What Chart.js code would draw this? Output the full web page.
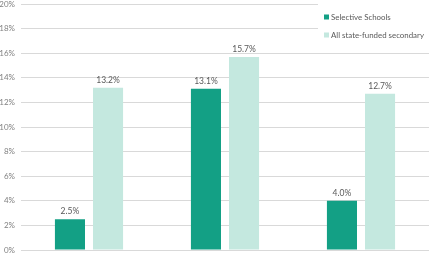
<!DOCTYPE html>
<html>
<head>
<meta charset="utf-8">
<script src="https://cdn.jsdelivr.net/npm/chart.js@4"></script>
<style>
html,body{margin:0;padding:0;background:#fff;}
#wrap{width:429px;height:255px;position:relative;}
</style>
</head>
<body>
<div id="wrap"><canvas id="c" width="429" height="255"></canvas></div>
<script>
const categories = ["Group 1", "Group 2", "Group 3"];
const selectiveSchools = [2.5, 13.1, 4.0];
const allStateFunded = [13.2, 15.7, 12.7];
const seriesNames = ["Selective Schools", "All state-funded secondary"];
const yTicks = [0, 2, 4, 6, 8, 10, 12, 14, 16, 18, 20];

const FONT = "Lato, 'Open Sans', 'Liberation Sans', sans-serif";
const DARK = "#13a085";
const LIGHT = "#c4e8df";

const dataLabels = {
  id: 'dataLabels',
  afterDatasetsDraw(chart) {
    const ctx = chart.ctx;
    ctx.save();
    ctx.font = "8.5px " + FONT;
    ctx.fillStyle = "#595959";
    ctx.textAlign = "center";
    ctx.textBaseline = "bottom";
    chart.data.datasets.forEach((ds, i) => {
      const meta = chart.getDatasetMeta(i);
      meta.data.forEach((bar, j) => {
        ctx.fillText(ds.data[j].toFixed(1) + "%", bar.x, bar.y - 3.5);
      });
    });
    ctx.restore();
  }
};

const customLegend = {
  id: 'customLegend',
  afterDraw(chart) {
    const ctx = chart.ctx;
    ctx.save();
    ctx.fillStyle = "#fff";
    ctx.fillRect(318, 0, 111, 44);
    // fit the longest label into the space the reference legend uses
    let size = 8.5;
    ctx.font = size + "px " + FONT;
    const longest = Math.max(...chart.data.datasets.map(d => ctx.measureText(d.label).width));
    if (longest > 93) { size = size * 93 / longest; }
    ctx.font = size + "px " + FONT;
    ctx.textBaseline = "middle";
    ctx.textAlign = "left";
    chart.data.datasets.forEach((ds, i) => {
      const y = 17 + i * 18;
      ctx.fillStyle = ds.backgroundColor;
      ctx.fillRect(324, y - 2.5, 5, 5);
      ctx.fillStyle = "#595959";
      ctx.fillText(ds.label, 331, y);
    });
    ctx.restore();
  }
};

new Chart(document.getElementById('c'), {
  type: 'bar',
  data: {
    labels: categories,
    datasets: [
      { label: seriesNames[0], data: selectiveSchools, backgroundColor: DARK,
        categoryPercentage: 0.56, barPercentage: 0.79 },
      { label: seriesNames[1], data: allStateFunded, backgroundColor: LIGHT,
        categoryPercentage: 0.56, barPercentage: 0.79 }
    ]
  },
  options: {
    responsive: false,
    animation: false,
    devicePixelRatio: 1,
    layout: { padding: { top: 4, bottom: 5, left: 0, right: 0 } },
    plugins: { legend: { display: false }, tooltip: { enabled: false } },
    scales: {
      x: { display: false },
      y: {
        min: 0, max: 20,
        afterBuildTicks(axis) { axis.ticks = yTicks.map(v => ({ value: v })); },
        afterFit(axis) { axis.width = 21; axis.paddingTop = 0; axis.paddingBottom = 0; },
        border: { display: false },
        grid: { color: "#d9d9d9", drawTicks: false, lineWidth: 1 },
        ticks: {
          padding: 6,
          color: "#808080",
          font: { family: FONT, size: 8 },
          callback: v => v + "%"
        }
      }
    }
  },
  plugins: [dataLabels, customLegend]
});
</script>
</body>
</html>
